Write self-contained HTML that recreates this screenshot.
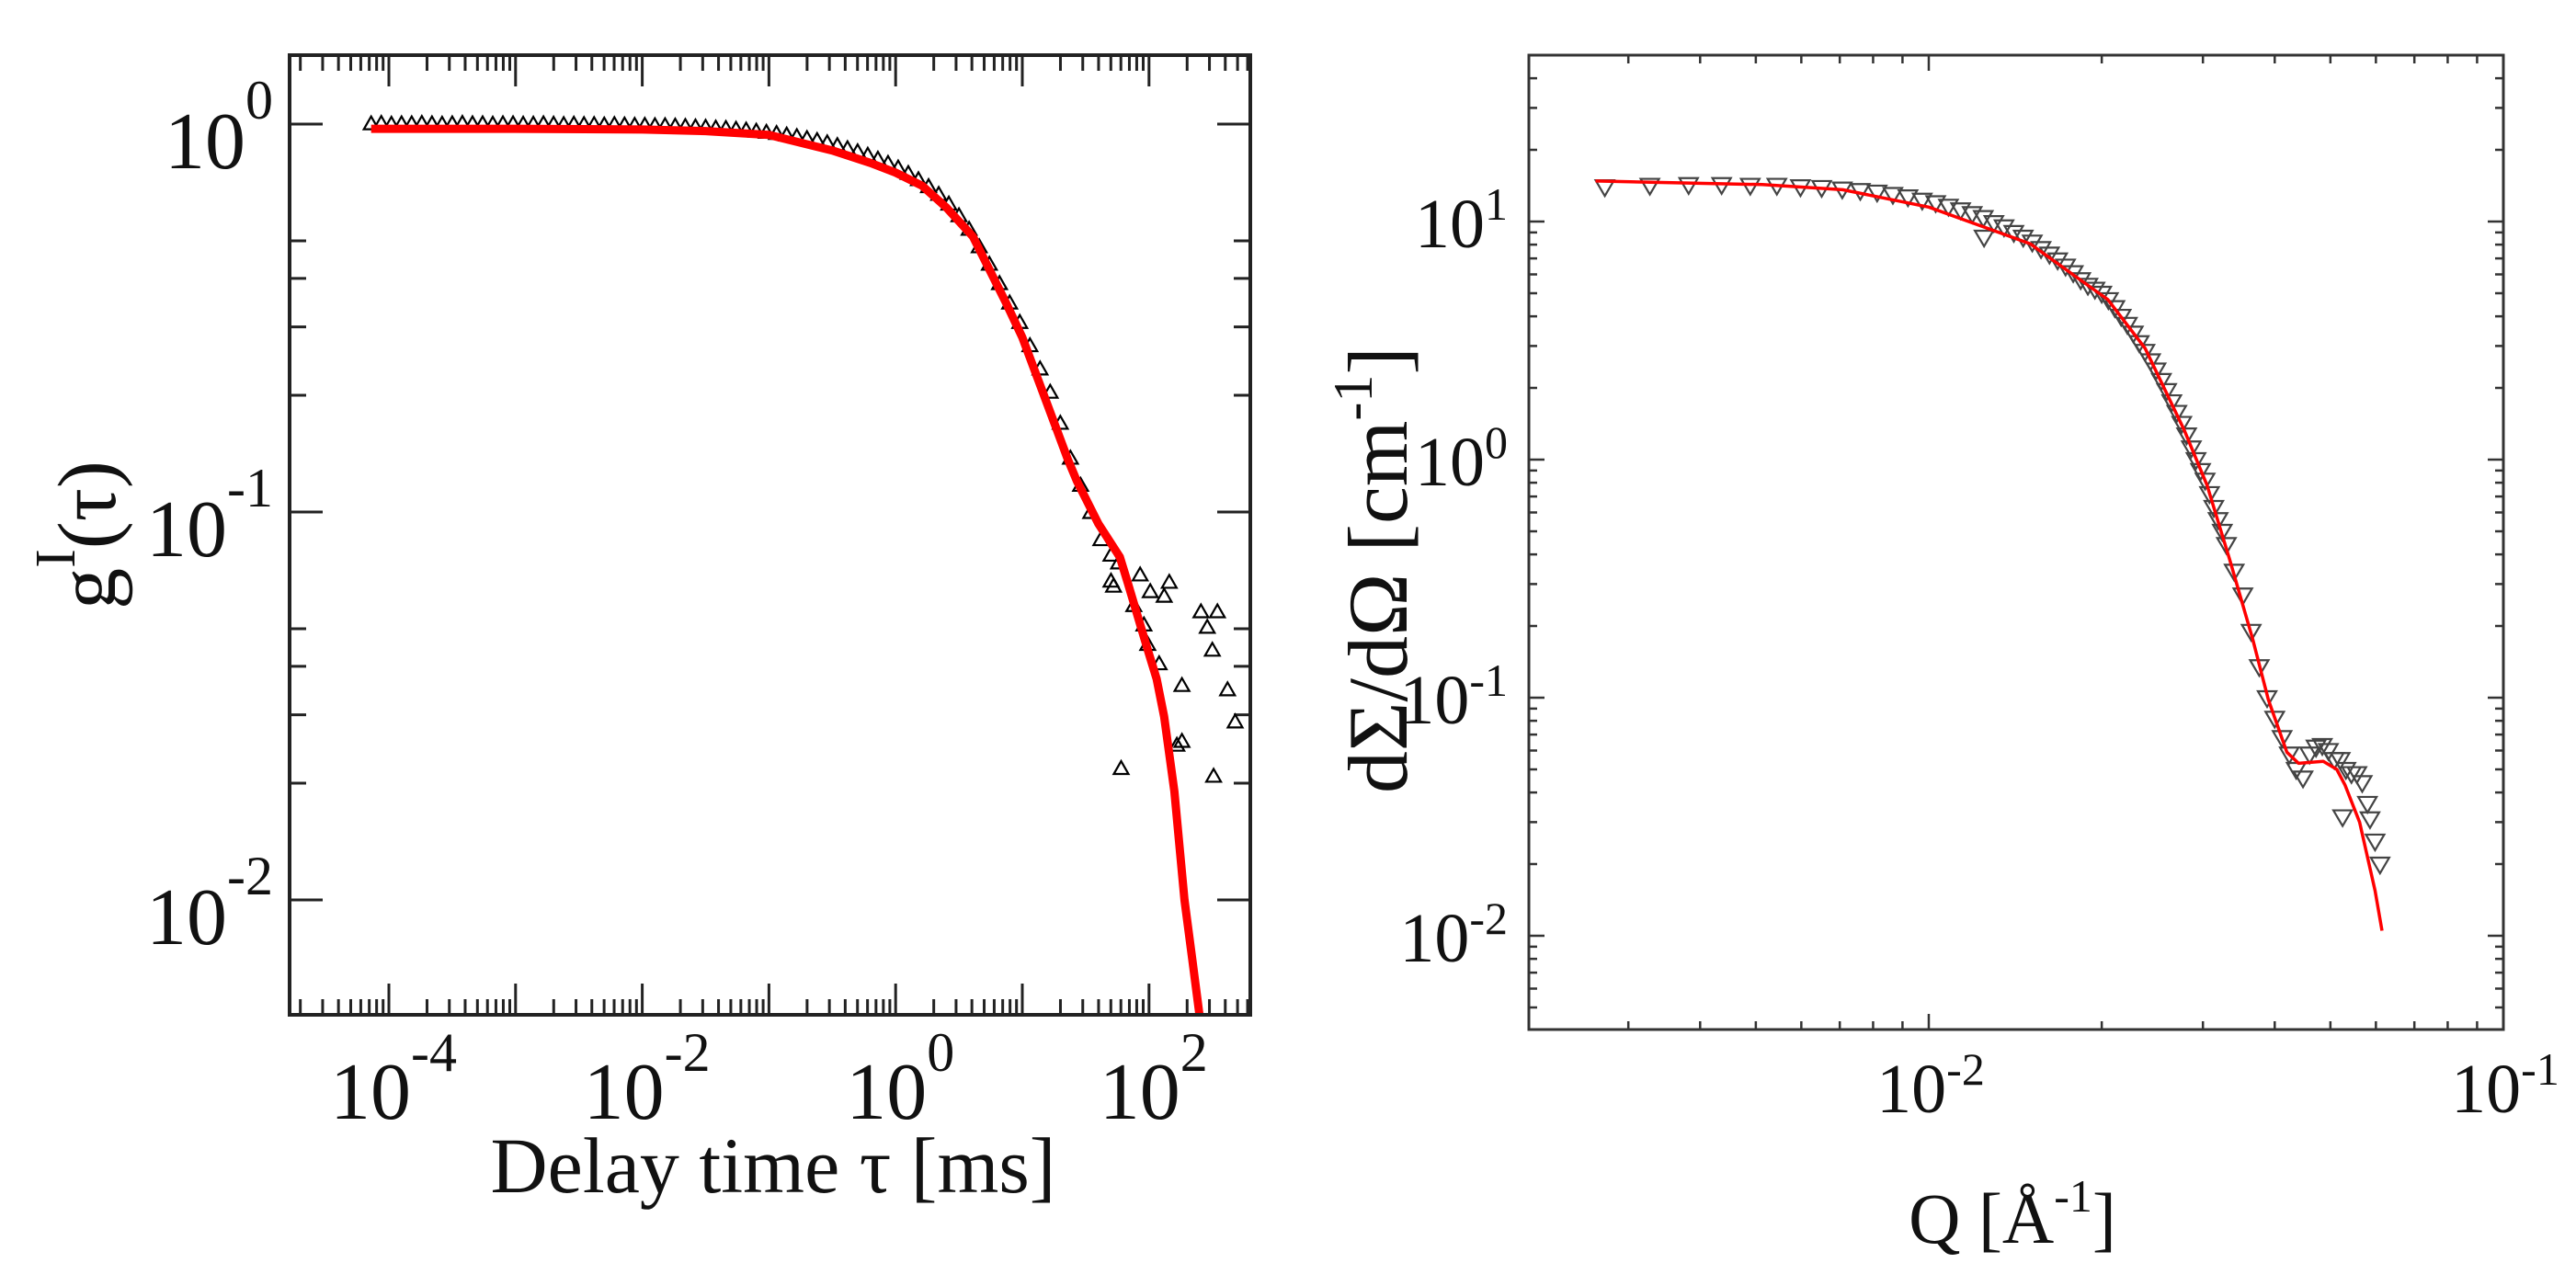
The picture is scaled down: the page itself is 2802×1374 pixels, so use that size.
<!DOCTYPE html>
<html>
<head>
<meta charset="utf-8">
<style>
html,body{margin:0;padding:0;background:#fff;}
svg{display:block;}
text{font-family:"Liberation Serif",serif;fill:#111;}
</style>
</head>
<body>
<svg id="fig" width="2802" height="1374" viewBox="0 0 2802 1374" xmlns="http://www.w3.org/2000/svg">
  <defs>
    <clipPath id="clipL"><rect x="315" y="60" width="1045" height="1044"/></clipPath>
    <clipPath id="clipR"><rect x="1663" y="60" width="1060" height="1060"/></clipPath>
  </defs>
  <g id="left-chart"></g>
  <g id="right-chart"></g>

  <text x="841" y="1297" font-size="86" text-anchor="middle">Delay time τ [ms]</text>
  <g transform="translate(125,582) rotate(-90)">
    <text x="0" y="0" font-size="90" text-anchor="middle">g<tspan font-size="62" dy="-44">I</tspan><tspan dy="44">(τ)</tspan></text>
  </g>

  <text x="2189" y="1352" font-size="78" text-anchor="middle">Q [Å<tspan font-size="50" dy="-34">-1</tspan><tspan dy="34">]</tspan></text>
  <g transform="translate(1530,620) rotate(-90)">
    <text x="0" y="0" font-size="92" text-anchor="middle">dΣ/dΩ [cm<tspan font-size="60" dy="-38">-1</tspan><tspan dy="38">]</tspan></text>
  </g>
</svg>

<script>
// ---------- LEFT CHART DATA (DLS correlation) ----------
const leftXTickExps = [-4, -2, 0, 2];
const leftYTickExps = [0, -1, -2];
const fitLogTau = [-4.14,-3,-2,-1.5,-1,-0.5,-0.2,0,0.21,0.4,0.61,0.87,1.0,1.2,1.36,1.43,1.6,1.77,1.83,1.93,1.99,2.06,2.12,2.2,2.28,2.34,2.4,2.45];
const fitLogG   = [-0.012,-0.012,-0.014,-0.018,-0.028,-0.068,-0.1,-0.125,-0.159,-0.215,-0.29,-0.46,-0.55,-0.725,-0.865,-0.92,-1.03,-1.116,-1.18,-1.29,-1.355,-1.43,-1.528,-1.72,-2.0,-2.15,-2.30,-2.45];
const dataLogTau = [-4.14,-4.06,-3.98,-3.9,-3.82,-3.74,-3.66,-3.58,-3.5,-3.42,-3.34,-3.26,-3.18,-3.1,-3.02,-2.94,-2.86,-2.78,-2.7,-2.62,-2.54,-2.46,-2.38,-2.3,-2.22,-2.14,-2.06,
  -1.98,-1.9,-1.82,-1.74,-1.66,-1.58,-1.5,-1.42,-1.34,-1.26,-1.18,-1.1,-1.02,-0.94,-0.86,-0.78,-0.7,-0.62,-0.54,-0.46,-0.38,-0.3,-0.22,-0.14,-0.06,
  0.02,0.1,0.18,0.26,0.34,0.42,0.5,0.58,0.66,0.74,0.82,0.9,0.98,1.06,1.14,1.22,1.3,1.38,1.46,1.54,1.62,1.7,1.76,1.88,1.96,1.99,2.08,
  1.93,2.16,2.01,2.12,1.70,1.72,2.41,2.54,2.46,2.50,2.26,2.62,1.78,2.22,2.26,2.51,2.68];
const dataLogG = [0.002,0.003,0.001,0.002,0.002,0.003,0.002,0.001,0.002,0.003,0.002,0.002,0.001,0.002,0.002,0.001,0.001,0.002,0.001,0.0,0.001,0.0,0.0,-0.001,0.0,-0.001,-0.002,
  -0.002,-0.003,-0.003,-0.004,-0.005,-0.006,-0.007,-0.009,-0.01,-0.012,-0.014,-0.017,-0.02,-0.023,-0.027,-0.031,-0.036,-0.041,-0.047,-0.054,-0.062,-0.07,-0.079,-0.089,-0.1,
  -0.112,-0.126,-0.142,-0.16,-0.18,-0.205,-0.235,-0.27,-0.315,-0.36,-0.41,-0.46,-0.51,-0.57,-0.63,-0.69,-0.77,-0.86,-0.93,-1.0,-1.07,-1.11,-1.13,-1.24,-1.29,-1.34,-1.39,
  -1.161,-1.18,-1.204,-1.216,-1.177,-1.19,-1.256,-1.256,-1.296,-1.355,-1.446,-1.457,-1.66,-1.60,-1.59,-1.68,-1.54];

// ---------- RIGHT CHART DATA (SANS) ----------
const rightXTickExps = [-2, -1];
const rightYTickExps = [1, 0, -1, -2];
const fitQ = [0.00263,0.00513,0.00708,0.0100,0.0123,0.0150,0.0178,0.0205,0.0238,0.0278,0.0305,0.0334,0.0366,0.0390,0.0420,0.0440,0.0486,0.0513,0.0530,0.0562,0.0598,0.0615];
const fitI = [14.8,14.3,13.6,11.5,9.6,8.07,6.0,4.7,2.93,1.34,0.78,0.38,0.177,0.098,0.059,0.053,0.054,0.050,0.043,0.030,0.0155,0.0105];
const dataQ = [0.00273,0.00327,0.00382,0.00436,0.00489,0.00544,0.00598,0.00651,0.00707,0.00760,0.00813,0.00866,0.00920,0.00974,0.01028,0.01082,0.01136,0.01190,0.01248,0.01244,0.01298,
  0.01352,0.01406,0.01460,0.01514,0.01568,0.01622,0.01676,0.01730,0.01784,0.01838,0.01892,0.01946,
  0.02000,0.02054,0.02108,0.02162,0.02216,0.02270,0.02324,0.02378,0.02432,0.02486,0.02540,0.02594,0.02648,0.02702,0.02756,0.02810,0.02864,0.02918,0.02972,0.03026,0.03080,0.03134,0.03188,0.03242,0.03296,
  0.0340,0.0352,0.0364,0.0376,0.0388,0.0400,0.0412,0.0424,0.0436,0.0448,0.0460,0.0472,0.0484,0.0496,0.0508,0.0520,0.0532,0.0544,0.0525,0.0556,0.0568,0.0580,0.0586,0.0598,0.0610];
const dataI = [14.0,14.2,14.3,14.3,14.2,14.2,14.0,13.9,13.7,13.5,13.3,13.0,12.7,12.3,12.0,11.6,11.2,10.8,8.6,10.4,9.9,
  9.5,9.0,8.6,8.2,7.7,7.3,6.9,6.5,6.1,5.7,5.4,5.2,
  5.0,4.7,4.35,4.0,3.7,3.4,3.1,2.85,2.6,2.38,2.15,1.95,1.75,1.58,1.42,1.27,1.12,1.0,0.9,0.82,0.72,0.63,0.56,0.5,0.44,
  0.34,0.27,0.19,0.135,0.10,0.082,0.068,0.058,0.050,0.046,0.058,0.062,0.063,0.060,0.055,0.055,0.050,0.048,0.0316,0.048,0.044,0.036,0.031,0.025,0.020];

const NS = 'http://www.w3.org/2000/svg';
function mk(tag, attrs, parent){
  const e = document.createElementNS(NS, tag);
  for (const k in attrs) e.setAttribute(k, attrs[k]);
  parent.appendChild(e);
  return e;
}

// ---------- LEFT AXES ----------
const L = {x0:315, x1:1360, y0:60, y1:1104};
function lx(logt){ return 423 + (logt + 4) * 137.8; }
function ly(logg){ return 135 - logg * 422; }
const gl = document.getElementById('left-chart');

const lTicks = mk('g', {}, gl);


let dL = '';
for (let d = -5; d <= 2; d++){
  for (let m = 1; m <= 9; m++){
    const x = lx(d + Math.log10(m));
    if (x < L.x0 + 1 || x > L.x1 - 1) continue;
    const len = m === 1 ? 34 : 17;
    dL += `M${x},${L.y1}v${-len}M${x},${L.y0}v${len}`;
  }
}
for (let d = -3; d <= 0; d++){
  [1,2,3,4,5].forEach(m => {
    const y = ly(d + Math.log10(m));
    if (y < L.y0 + 1 || y > L.y1 - 1) return;
    const len = m === 1 ? 36 : 18;
    dL += `M${L.x0},${y}h${len}M${L.x1},${y}h${-len}`;
  });
}
mk('path', {d:dL, stroke:'#222', 'stroke-width':3, fill:'none'}, lTicks);

const lPts = mk('g', {'clip-path':'url(#clipL)'}, gl);


dataLogTau.forEach((t, i) => {
  const x = lx(t), y = ly(dataLogG[i]);
  const p = mk('path', {d:`M${x-8},${y+6.5}L${x+8},${y+6.5}L${x},${y-7.5}Z`, stroke:'#000', 'stroke-width':2.2, fill:'none'}, lPts);
  
  
});

const lFit = mk('path', {d: fitLogTau.map((t,i)=>(i?'L':'M')+lx(t).toFixed(1)+','+ly(fitLogG[i]).toFixed(1)).join(''),
  stroke:'#ff0000', 'stroke-width':9, fill:'none', 'stroke-linejoin':'round', 'clip-path':'url(#clipL)'}, gl);



const lFrame = mk('rect', {x:L.x0, y:L.y0, width:L.x1-L.x0, height:L.y1-L.y0, fill:'none', stroke:'#222', 'stroke-width':4}, gl);



leftXTickExps.forEach(e => {
  const t = mk('text', {x: lx(e) + 5, y: 1217, 'font-size': 88, 'text-anchor':'middle'}, gl);
  
  
  t.innerHTML = `10<tspan font-size="60" dy="-52">${e}</tspan>`;
});
leftYTickExps.forEach(e => {
  const t = mk('text', {x: 297, y: ly(e) + 48, 'font-size': 88, 'text-anchor':'end'}, gl);
  
  
  t.innerHTML = `10<tspan font-size="60" dy="-54">${e}</tspan>`;
});

// ---------- RIGHT AXES ----------
const R = {x0:1663, x1:2723, y0:60, y1:1120};
function rx(logq){ return 2098 + (logq + 2) * 625; }
function ry(logi){ return 500 - logi * 259; }
const gr = document.getElementById('right-chart');

const rTicks = mk('g', {}, gr);


let dR = '';
for (let d = -3; d <= -1; d++){
  for (let m = 1; m <= 9; m++){
    const x = rx(d + Math.log10(m));
    if (x < R.x0 + 1 || x > R.x1 - 1) continue;
    const len = m === 1 ? 17 : 9;
    dR += `M${x},${R.y1}v${-len}M${x},${R.y0}v${len}`;
  }
}
for (let d = -3; d <= 1; d++){
  for (let m = 1; m <= 9; m++){
    const y = ry(d + Math.log10(m));
    if (y < R.y0 + 1 || y > R.y1 - 1) continue;
    const len = m === 1 ? 17 : 9;
    dR += `M${R.x0},${y}h${len}M${R.x1},${y}h${-len}`;
  }
}
mk('path', {d:dR, stroke:'#333', 'stroke-width':2.5, fill:'none'}, rTicks);

const rPts = mk('g', {'clip-path':'url(#clipR)'}, gr);


dataQ.forEach((q, i) => {
  const x = rx(Math.log10(q)), y = ry(Math.log10(dataI[i]));
  const p = mk('path', {d:`M${x-10},${y-7}L${x+10},${y-7}L${x},${y+10}Z`, stroke:'#444', 'stroke-width':2.2, fill:'none'}, rPts);
  
  
});

const rFit = mk('path', {d: fitQ.map((q,i)=>(i?'L':'M')+rx(Math.log10(q)).toFixed(1)+','+ry(Math.log10(fitI[i])).toFixed(1)).join(''),
  stroke:'#ff0000', 'stroke-width':3.5, fill:'none', 'stroke-linejoin':'round', 'clip-path':'url(#clipR)'}, gr);



const rFrame = mk('rect', {x:R.x0, y:R.y0, width:R.x1-R.x0, height:R.y1-R.y0, fill:'none', stroke:'#333', 'stroke-width':3}, gr);



rightXTickExps.forEach(e => {
  const t = mk('text', {x: rx(e) + 2, y: 1210, 'font-size': 76, 'text-anchor':'middle'}, gr);
  
  
  t.innerHTML = `10<tspan font-size="50" dy="-30">${e}</tspan>`;
});
rightYTickExps.forEach(e => {
  const t = mk('text', {x: 1640, y: ry(e) + 28, 'font-size': 76, 'text-anchor':'end'}, gr);
  
  
  t.innerHTML = `10<tspan font-size="50" dy="-30">${e}</tspan>`;
});
</script>
</body>
</html>
